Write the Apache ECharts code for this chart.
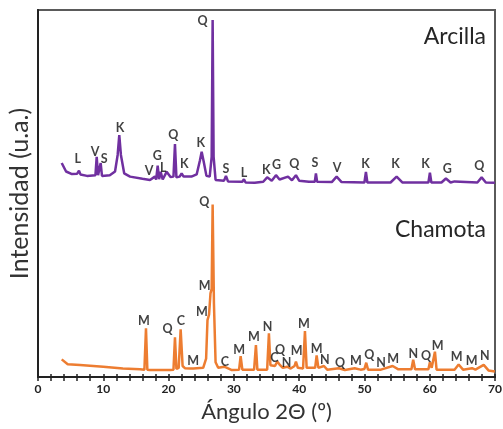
<!DOCTYPE html>
<html>
<head>
<meta charset="utf-8">
<script src="https://cdn.jsdelivr.net/npm/echarts@6/dist/echarts.min.js"></script>
<style>
  html, body { margin: 0; padding: 0; background: #fff; }
  #chart { width: 503px; height: 429px; }
</style>
</head>
<body>
<div id="chart"></div>
<script>
// X-ray patterns, 2 theta (deg) vs intensity (arbitrary units, Arcilla drawn offset above)
var arcillaTrace = [
  [3.63, 58.3], [4.3, 56.0], [5.2, 55.3], [6.0, 55.4], [6.28, 56.2], [6.5, 55.2], [7.5, 54.8],
  [8.8, 55.0], [8.99, 60.0], [9.2, 55.0], [9.45, 55.0], [9.6, 58.3], [9.8, 54.8], [11.0, 55.0],
  [11.8, 56.0], [12.2, 60.5], [12.45, 65.9], [12.7, 60.5], [13.2, 55.5], [14.1, 54.6], [16.0, 54.0],
  [17.15, 53.7], [17.9, 54.6], [18.1, 53.8], [18.33, 57.6], [18.55, 53.9], [18.79, 55.9], [19.1, 53.8],
  [19.7, 55.9], [20.3, 54.5], [20.75, 54.6], [20.98, 63.5], [21.2, 54.4], [21.7, 54.6], [22.0, 55.5],
  [22.3, 54.6], [23.5, 54.6], [24.3, 55.2], [24.8, 59.0], [25.07, 61.4], [25.4, 58.5], [25.8, 54.8],
  [26.3, 54.6], [26.6, 60.0], [26.75, 97.3], [26.9, 60.0], [27.2, 53.7], [28.5, 53.5], [28.79, 54.8],
  [29.1, 53.3], [31.3, 53.2], [31.55, 53.9], [31.8, 53.0], [33.2, 52.9], [34.5, 53.2], [35.1, 54.4],
  [35.8, 53.5], [36.45, 55.0], [37.0, 53.8], [38.3, 54.6], [38.9, 53.6], [39.51, 55.0], [40.0, 53.5],
  [41.5, 53.2], [42.4, 53.2], [42.57, 55.5], [42.75, 53.2], [45.0, 53.1], [45.74, 54.6], [46.5, 53.1],
  [50.0, 53.0], [50.23, 55.9], [50.45, 53.0], [54.0, 53.0], [54.93, 54.6], [55.8, 53.0], [59.8, 53.0],
  [60.03, 55.7], [60.25, 53.0], [61.8, 53.0], [62.48, 54.1], [63.2, 53.0], [63.8, 53.3], [67.3, 53.0],
  [67.95, 54.4], [68.6, 53.0], [69.98, 52.9]
];

var chamotaTrace = [
  [3.63, 4.8], [4.55, 3.5], [6.43, 3.3], [10.0, 2.8], [13.0, 2.3], [15.62, 2.1], [16.3, 2.0],
  [16.54, 13.3], [16.75, 2.0], [17.15, 1.9], [20.2, 1.9], [20.75, 2.0], [20.98, 10.8], [21.2, 2.2],
  [21.55, 2.5], [21.85, 13.0], [22.15, 3.0], [22.5, 2.4], [23.3, 2.3], [23.54, 2.8], [23.8, 2.3],
  [25.3, 2.5], [25.75, 5.0], [25.96, 15.5], [26.2, 17.0], [26.42, 22.8], [26.6, 24.0], [26.75, 47.0],
  [26.95, 20.0], [27.2, 4.0], [27.6, 2.5], [28.53, 2.8], [29.7, 1.9], [30.8, 2.0], [31.04, 5.7],
  [31.3, 2.0], [33.1, 2.0], [33.38, 8.7], [33.6, 2.0], [35.1, 2.0], [35.37, 11.9], [35.6, 3.2],
  [36.3, 3.0], [36.65, 4.2], [37.0, 3.4], [37.21, 3.7], [37.5, 2.5], [38.18, 2.8], [38.7, 2.3],
  [39.3, 3.0], [39.51, 4.2], [39.8, 2.5], [40.6, 2.3], [40.89, 12.5], [41.15, 2.5], [42.45, 2.5],
  [42.68, 5.9], [42.95, 2.5], [43.8, 3.0], [44.3, 2.0], [46.09, 2.4], [47.0, 1.9], [48.5, 2.4],
  [49.4, 2.0], [50.0, 2.2], [50.28, 3.9], [50.55, 2.0], [52.53, 2.0], [54.32, 3.0], [55.2, 2.1],
  [57.2, 2.1], [57.47, 4.7], [57.75, 2.1], [59.8, 2.1], [60.03, 4.0], [60.3, 2.5], [60.55, 2.5],
  [60.8, 6.9], [61.05, 2.0], [63.8, 2.0], [64.43, 3.4], [65.1, 2.0], [66.49, 2.4], [67.0, 2.0],
  [68.27, 3.3], [69.0, 1.8], [69.98, 1.5]
];

// phase labels: [2theta, height, letter]
var arcillaPeaks = [
  [6.08, 59.3, 'L'], [8.73, 61.4, 'V'], [10.15, 59.3, 'S'], [12.56, 67.9, 'K'], [17.0, 56.2, 'V'],
  [18.27, 60.3, 'G'], [19.19, 57.0, 'L'], [20.72, 65.9, 'Q'], [22.4, 58.0, 'K'], [24.92, 63.8, 'K'],
  [25.22, 97.1, 'Q'], [28.79, 56.6, 'S'], [31.55, 55.7, 'L'], [34.96, 56.5, 'K'], [36.55, 57.8, 'G'],
  [39.25, 58.0, 'Q'], [42.42, 58.4, 'S'], [45.83, 56.9, 'V'], [50.18, 58.0, 'K'], [54.78, 58.0, 'K'],
  [59.37, 58.0, 'K'], [62.68, 56.7, 'G'], [67.58, 57.5, 'Q']
];

var chamotaPeaks = [
  [16.23, 15.3, 'M'], [19.86, 13.0, 'Q'], [21.9, 15.3, 'C'], [23.78, 4.4, 'M'], [25.11, 17.8, 'M'],
  [25.53, 24.8, 'M'], [25.47, 47.8, 'Q'], [28.64, 4.2, 'C'], [30.83, 7.5, 'M'], [33.08, 11.0, 'M'],
  [35.18, 13.7, 'N'], [36.19, 5.1, 'C'], [37.06, 7.4, 'Q'], [38.09, 3.7, 'N'], [39.62, 7.2, 'M'],
  [40.74, 14.4, 'M'], [42.68, 7.6, 'M'], [43.95, 4.6, 'N'], [46.25, 3.7, 'Q'], [48.7, 4.4, 'M'],
  [50.74, 6.0, 'Q'], [52.53, 3.7, 'N'], [54.41, 4.8, 'M'], [57.47, 6.3, 'N'], [59.42, 5.7, 'Q'],
  [61.21, 8.5, 'M'], [64.12, 5.5, 'M'], [66.42, 4.4, 'M'], [68.45, 5.7, 'N']
];

var xTicks = { min: 0, max: 70, interval: 10 };

function peakLabels(peaks) {
  return {
    type: 'scatter',
    symbolSize: 0,
    silent: true,
    z: 5,
    data: peaks,
    label: {
      show: true,
      position: 'inside',
      formatter: function (p) { return p.value[2]; },
      fontFamily: 'Lato',
      fontWeight: 'bold',
      fontSize: 12.5,
      color: '#111'
    }
  };
}

var chart = echarts.init(document.getElementById('chart'));

chart.setOption({
  animation: false,
  backgroundColor: '#fff',
  grid: {
    left: 38, right: 8, top: 10, bottom: 52,
    outerBoundsMode: 'none', containLabel: false,
    show: true, borderColor: '#5a5a5a', borderWidth: 2
  },
  xAxis: [
    {
      type: 'value', min: xTicks.min, max: xTicks.max, interval: xTicks.interval,
      name: 'Ángulo 2Θ (º)', nameLocation: 'middle', nameGap: 24,
      nameTextStyle: { fontFamily: 'Lato', fontSize: 22, color: '#333' },
      axisLine: { lineStyle: { color: '#222', width: 2 } },
      axisTick: { length: 4, lineStyle: { color: '#222', width: 1.5 } },
      minorTick: { show: true, splitNumber: 5, length: 4, lineStyle: { color: '#222', width: 1.5 } },
      axisLabel: { margin: 6, fontFamily: 'Lato', fontWeight: 'bold', fontSize: 12, color: '#222' },
      splitLine: { show: false }
    },
    {
      type: 'value', position: 'bottom', min: xTicks.min, max: xTicks.max, interval: xTicks.interval,
      axisLine: { show: false },
      axisTick: { inside: true, length: 3, lineStyle: { color: '#222', width: 1.5 } },
      minorTick: { show: true, splitNumber: 5, length: 3, lineStyle: { color: '#222', width: 1.5 } },
      axisLabel: { show: false },
      splitLine: { show: false }
    }
  ],
  yAxis: {
    type: 'value', min: 0, max: 100,
    name: 'Intensidad (u.a.)', nameLocation: 'middle', nameGap: 6,
    nameTextStyle: { fontFamily: 'Lato', fontSize: 25, color: '#333' },
    axisLine: { show: true, lineStyle: { color: '#222', width: 2 } },
    axisTick: { show: false },
    axisLabel: { show: false },
    splitLine: { show: false }
  },
  graphic: [
    {
      type: 'text', right: 17, top: 25,
      style: { text: 'Arcilla', fontFamily: 'Lato', fontSize: 23, fill: '#262626' }
    },
    {
      type: 'text', right: 17, top: 218,
      style: { text: 'Chamota', fontFamily: 'Lato', fontSize: 23, fill: '#262626' }
    }
  ],
  series: [
    {
      name: 'Arcilla', type: 'line', data: arcillaTrace, showSymbol: false,
      lineStyle: { color: '#7030a0', width: 2.5 }
    },
    {
      name: 'Chamota', type: 'line', data: chamotaTrace, showSymbol: false,
      lineStyle: { color: '#ed7d31', width: 2.5 }
    },
    peakLabels(arcillaPeaks),
    peakLabels(chamotaPeaks)
  ]
});
</script>
</body>
</html>
